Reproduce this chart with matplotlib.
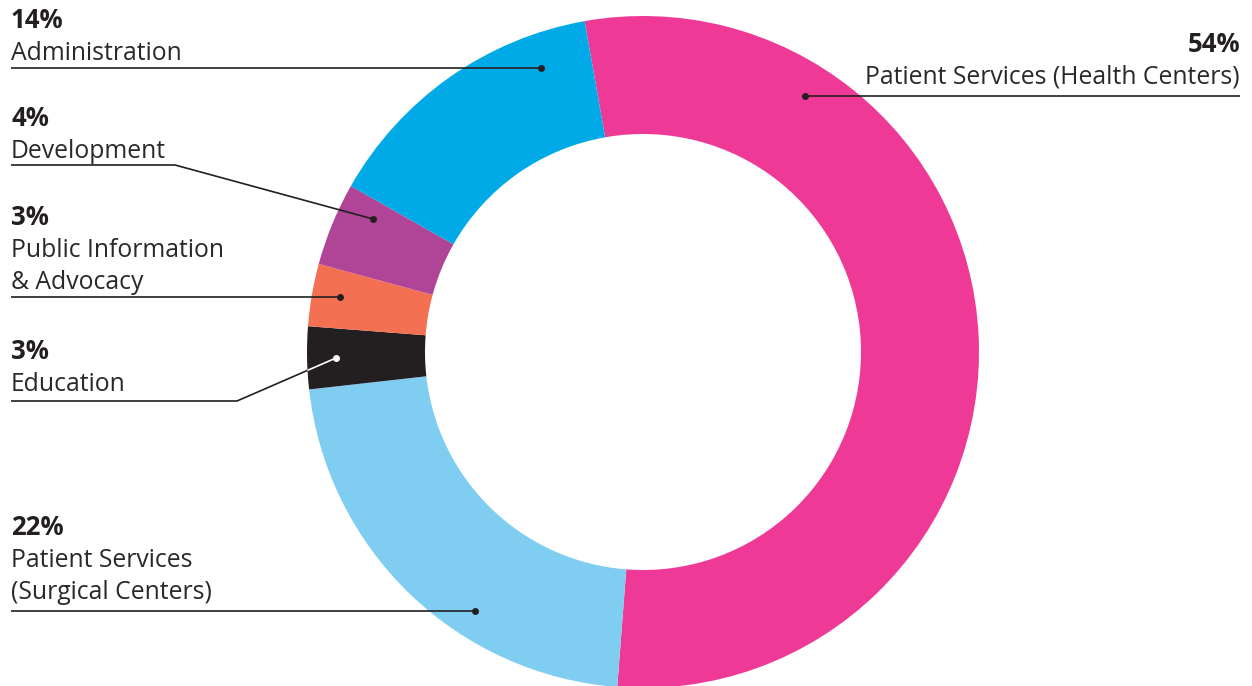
import matplotlib
matplotlib.use('Agg')
import matplotlib.pyplot as plt

# data
categories = ['Patient Services (Health Centers)', 'Patient Services\n(Surgical Centers)',
              'Education', 'Public Information\n& Advocacy', 'Development', 'Administration']
shares = [54, 22, 3, 3, 4, 14]
colors = ['#EE3A96', '#7FCEF2', '#231F20', '#F37053', '#B04497', '#00AAE7']

W, H = 1252, 686
C_TEXT = '#231F20'
FONT = 'Open Sans'

fig = plt.figure(figsize=(W / 100, H / 100), dpi=100)
fig.patch.set_facecolor('white')
ax = fig.add_axes([0, 0, 1, 1])

def fy(y):
    # image px (top-down) -> data (bottom-up)
    return H - y

CX, CY, R, RING = 643, fy(352), 336, 118
wedges, _ = ax.pie(shares, colors=colors, startangle=100, counterclock=False,
                   center=(CX, CY), radius=R, frame=True,
                   wedgeprops=dict(width=RING, linewidth=0))
ax.set_xlim(0, W)
ax.set_ylim(0, H)
ax.set_aspect('equal')
ax.axis('off')

# label layout: text x, pct baseline, leader y, elbow x, dot position, dot color
layout = [
    dict(x=1240, ha='right', base=52, line=96, elbow=None, dot=(805, 96), dc=C_TEXT),
    dict(x=11, ha='left', base=535, line=611, elbow=None, dot=(475, 611), dc=C_TEXT),
    dict(x=11, ha='left', base=359, line=401, elbow=237, dot=(336, 358), dc='white'),
    dict(x=11, ha='left', base=225, line=297, elbow=None, dot=(340, 297), dc=C_TEXT),
    dict(x=11, ha='left', base=126, line=165, elbow=175, dot=(373, 219), dc=C_TEXT),
    dict(x=11, ha='left', base=28, line=68, elbow=None, dot=(541, 68), dc=C_TEXT),
]
LS = 32

for name, val, lay, wedge, col in zip(categories, shares, layout, wedges, colors):
    ax.text(lay['x'], fy(lay['base']), f'{val}%', ha=lay['ha'], va='baseline',
            fontsize=18.5, fontweight='bold', color=C_TEXT, family=FONT)
    for i, ln in enumerate(name.split('\n')):
        ax.text(lay['x'], fy(lay['base'] + LS * (i + 1)), ln, ha=lay['ha'],
                va='baseline', fontsize=17.8, color='#2b2829', family=FONT)
    xs = [lay['x']]
    ys = [fy(lay['line'])]
    if lay['elbow'] is not None:
        xs.append(lay['elbow'])
        ys.append(fy(lay['line']))
    xs.append(lay['dot'][0])
    ys.append(fy(lay['dot'][1]))
    ax.plot(xs, ys, color=C_TEXT, lw=1.2, solid_capstyle='butt', zorder=4)
    if lay['dc'] == 'white':
        # leader shown in white where it crosses the dark wedge
        wl, = ax.plot(xs, ys, color='white', lw=1.2, solid_capstyle='butt', zorder=4.5)
        wl.set_clip_path(wedge)
    ax.plot(lay['dot'][0], fy(lay['dot'][1]), 'o', ms=5, color=lay['dc'],
            mec='none', zorder=5)

fig.savefig('out.png', dpi=100, facecolor='white')
